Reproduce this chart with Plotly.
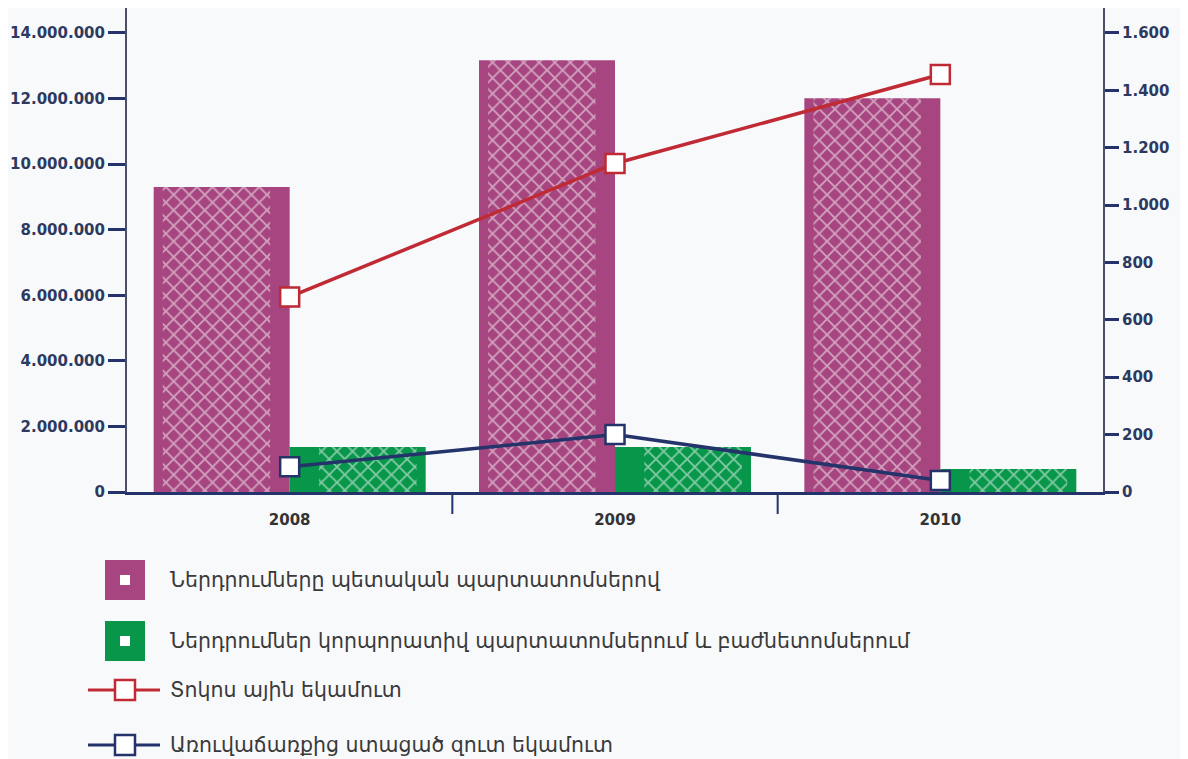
import plotly.graph_objects as go

# data
years = ["2008", "2009", "2010"]
state_bonds = [9300000, 13170000, 12010000]      # purple bars, left axis
corp_bonds = [1370000, 1370000, 700000]          # green bars, left axis
coupon_income = [680, 1145, 1455]                # red line, right axis
sale_income = [88, 200, 40]                      # navy line, right axis

left_ticks = [0, 2000000, 4000000, 6000000, 8000000, 10000000, 12000000, 14000000]
left_labels = ["0", "2.000.000", "4.000.000", "6.000.000", "8.000.000",
               "10.000.000", "12.000.000", "14.000.000"]
right_ticks = [0, 200, 400, 600, 800, 1000, 1200, 1400, 1600]
right_labels = ["0", "200", "400", "600", "800", "1.000", "1.200", "1.400", "1.600"]

legend_names = ["Ներդրումները պետական պարտատոմսերով",
                "Ներդրումներ կորպորատիվ պարտատոմսերում և բաժնետոմսերում",
                "Տոկոս ային եկամուտ",
                "Առուվաճառքից ստացած զուտ եկամուտ"]

PURPLE = "#a6457f"
GREEN = "#07964a"
RED = "#bf2a35"
NAVY = "#24336a"
AXIS = "#4a4f66"
BG = "#f8f9fb"

# page has an 8px body margin, so the figure is drawn 8px smaller and
# all pixel positions below are given in screenshot coordinates
OFF = 8
W, H = 1188 - OFF, 759 - OFF
ML, MR, MT, MB = 127 - OFF, 85, 0, 759 - 492
PH = H - MT - MB
PW = W - ML - MR


def py(y):  # screenshot row -> paper y
    return (H - MB - (y - OFF)) / PH


def px(x):  # screenshot column -> paper x
    return ((x - OFF) - ML) / PW


hatch = dict(shape="x", fgcolor="white", size=11, solidity=0.3, fillmode="overlay")

fig = go.Figure()

# solid bars
fig.add_trace(go.Bar(x=years, y=state_bonds, offset=-0.418, width=0.418,
                     marker=dict(color=PURPLE, line_width=0), showlegend=False))
fig.add_trace(go.Bar(x=years, y=corp_bonds, offset=0, width=0.418,
                     marker=dict(color=GREEN, line_width=0), showlegend=False))
# white hatch texture in the middle of each bar
fig.add_trace(go.Bar(x=years, y=state_bonds, offset=-0.39, width=0.33,
                     marker=dict(color="rgba(0,0,0,0)", line_width=0, pattern=hatch),
                     showlegend=False, hoverinfo="skip"))
fig.add_trace(go.Bar(x=years, y=corp_bonds, offset=0.09, width=0.3,
                     marker=dict(color="rgba(0,0,0,0)", line_width=0, pattern=hatch),
                     showlegend=False, hoverinfo="skip"))

# lines on right axis
fig.add_trace(go.Scatter(x=years, y=coupon_income, yaxis="y2", mode="lines+markers",
                         line=dict(color=RED, width=3.5),
                         marker=dict(symbol="square", size=19, color="white",
                                     line=dict(color=RED, width=2.5)),
                         showlegend=False, cliponaxis=False))
fig.add_trace(go.Scatter(x=years, y=sale_income, yaxis="y2", mode="lines+markers",
                         line=dict(color=NAVY, width=3.5),
                         marker=dict(symbol="square", size=19, color="white",
                                     line=dict(color=NAVY, width=2.5)),
                         showlegend=False, cliponaxis=False))

tickfont = dict(size=15, color="#2d3a60", family="DejaVu Sans", weight="bold")

fig.update_layout(
    width=W, height=H,
    margin=dict(l=ML, r=MR, t=MT, b=MB),
    paper_bgcolor=BG, plot_bgcolor=BG,
    barmode="overlay",
    font=dict(family="DejaVu Sans", color=AXIS),
    xaxis=dict(type="category", showgrid=False, showline=True, linecolor=NAVY,
               linewidth=2.5, ticks="outside", ticklen=12,
               tickcolor="rgba(0,0,0,0)", zeroline=False,
               tickfont=dict(size=15, color="#333333", family="DejaVu Sans",
                             weight="bold"),
               range=[-0.5, len(years) - 0.5]),
    yaxis=dict(range=[0, 14760000], tickvals=left_ticks, ticktext=left_labels,
               showgrid=False, zeroline=False, showline=True, linecolor=AXIS,
               linewidth=2, ticks="outside", ticklen=17, tickwidth=2.5,
               tickcolor=NAVY, tickfont=tickfont),
    yaxis2=dict(range=[0, 1687], overlaying="y", side="right",
                tickvals=right_ticks, ticktext=right_labels, showgrid=False,
                zeroline=False, showline=True, linecolor=AXIS, linewidth=2,
                ticks="outside", ticklen=14, tickwidth=2.5, tickcolor=NAVY,
                tickfont=tickfont),
)

shapes = []
annotations = []

# category dividers below the baseline
for i in range(len(years) - 1):
    shapes.append(dict(type="line", xref="x", yref="paper", x0=i + 0.5, x1=i + 0.5,
                       y0=0, y1=py(492 + 22), line=dict(color=NAVY, width=2)))

# custom legend below the chart
box_rows = [(580, PURPLE), (641, GREEN)]
for yc, col in box_rows:
    shapes.append(dict(type="rect", xref="paper", yref="paper",
                       x0=px(105), x1=px(145), y0=py(yc + 20), y1=py(yc - 20),
                       fillcolor=col, line_width=0))
    shapes.append(dict(type="rect", xref="paper", yref="paper",
                       x0=px(120), x1=px(130), y0=py(yc + 5), y1=py(yc - 5),
                       fillcolor="white", line_width=0))
line_rows = [(690, RED), (745, NAVY)]
for yc, col in line_rows:
    shapes.append(dict(type="line", xref="paper", yref="paper",
                       x0=px(88), x1=px(160), y0=py(yc), y1=py(yc),
                       line=dict(color=col, width=3)))
    shapes.append(dict(type="rect", xref="paper", yref="paper",
                       x0=px(115), x1=px(135), y0=py(yc + 10), y1=py(yc - 10),
                       fillcolor="white", line=dict(color=col, width=2.5)))

for yc, name in zip([580, 641, 690, 745], legend_names):
    annotations.append(dict(text=name, xref="paper", yref="paper",
                            x=px(168), y=py(yc), xanchor="left", yanchor="middle",
                            showarrow=False,
                            font=dict(size=20.5, color="#3a3a3a", family="DejaVu Sans")))

fig.update_layout(shapes=shapes, annotations=annotations)

fig.write_html("out.html")
